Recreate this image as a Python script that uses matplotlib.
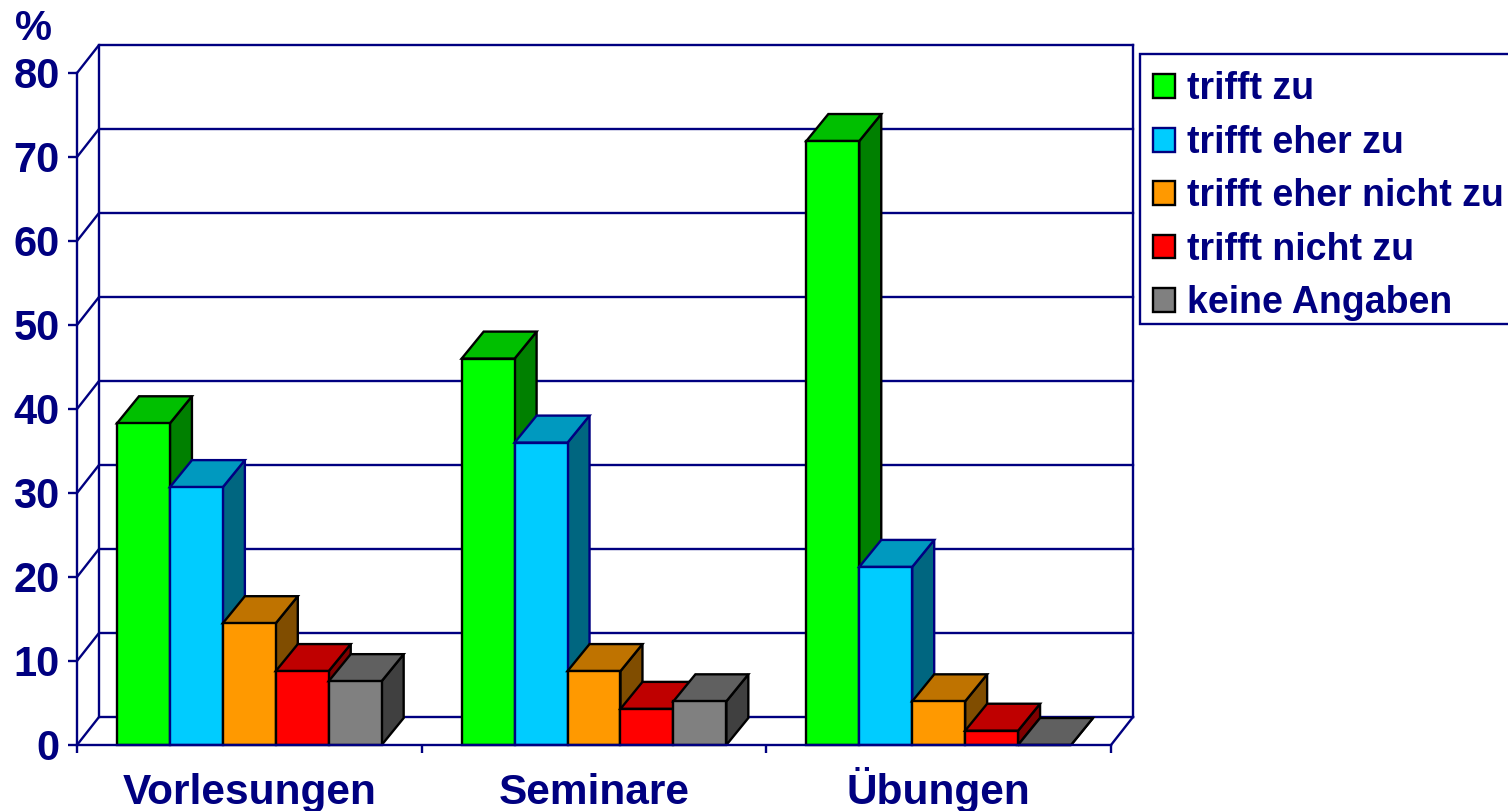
import matplotlib
matplotlib.use("Agg")
import matplotlib.pyplot as plt
from matplotlib.patches import Polygon, Rectangle
from matplotlib.colors import to_rgb

categories = ["Vorlesungen", "Seminare", "Übungen"]
trifft_zu = [38.3, 46.0, 71.9]
trifft_eher_zu = [30.7, 36.0, 21.2]
trifft_eher_nicht_zu = [14.5, 8.8, 5.2]
trifft_nicht_zu = [8.8, 4.3, 1.7]
keine_angaben = [7.6, 5.2, 0.0]
series_names = ["trifft zu", "trifft eher zu", "trifft eher nicht zu", "trifft nicht zu", "keine Angaben"]
series_values = [trifft_zu, trifft_eher_zu, trifft_eher_nicht_zu, trifft_nicht_zu, keine_angaben]
series_colors = ["#00FF00", "#00CCFF", "#FF9900", "#FF0000", "#808080"]
series_edges = ["#000000", "#000080", "#000000", "#000000", "#000000"]
y_ticks = [0, 10, 20, 30, 40, 50, 60, 70, 80]

NAVY = "#000080"
W, H = 1508, 811
LW = 1.7
plt.rcParams["font.family"] = ["Liberation Sans", "DejaVu Sans"]
plt.rcParams["font.weight"] = "bold"

fig = plt.figure(figsize=(W / 100, H / 100), dpi=100)
ax = fig.add_axes([77 / W, 1 - 745 / H, 1034 / W, 672 / H])
ax.set_xlim(0, 3)
ax.set_ylim(0, 80)

dx = 22 / (1034 / 3)      # depth offset, category units
dy = 27 / 8.4             # depth offset, value units
wall_dy = 28 / 8.4
gap = 40 / (1034 / 3)
bar_w = (1 - 2 * gap) / 5


def shade(color, f):
    return tuple(c * f for c in to_rgb(color))


# walls and floor
wall = dict(color=NAVY, lw=LW, clip_on=False, zorder=1, solid_capstyle="projecting")
for v in y_ticks:
    ax.plot([0, dx, 3 + dx], [v, v + wall_dy, v + wall_dy], **wall)
ax.plot([dx, dx], [wall_dy, 80 + wall_dy], **wall)
ax.plot([3 + dx, 3 + dx], [wall_dy, 80 + wall_dy], **wall)
ax.plot([3, 3 + dx], [0, wall_dy], **wall)

# bars
z = 2
for s, (name, vals, col, edge) in enumerate(zip(series_names, series_values, series_colors, series_edges)):
    xs = [i + gap + s * bar_w for i in range(len(categories))]
    ax.bar(xs, vals, width=bar_w, align="edge", color=col, edgecolor=edge,
           linewidth=LW, label=name, zorder=z + 2, clip_on=False)
    for x, v in zip(xs, vals):
        top = Polygon([(x, v), (x + bar_w, v), (x + bar_w + dx, v + dy), (x + dx, v + dy)],
                      closed=True, facecolor=shade(col, 0.75), edgecolor=edge, lw=LW,
                      zorder=z + 1, clip_on=False)
        side = Polygon([(x + bar_w, 0), (x + bar_w + dx, dy), (x + bar_w + dx, v + dy), (x + bar_w, v)],
                       closed=True, facecolor=shade(col, 0.5), edgecolor=edge, lw=LW,
                       zorder=z, clip_on=False)
        ax.add_patch(top)
        ax.add_patch(side)
    z += 3

# axes
for sp in ["top", "right"]:
    ax.spines[sp].set_visible(False)
for sp in ["left", "bottom"]:
    ax.spines[sp].set_color(NAVY)
    ax.spines[sp].set_linewidth(LW)
    ax.spines[sp].set_zorder(30)
ax.patch.set_visible(False)
ax.set_yticks(y_ticks)
ax.set_xticks([0, 1, 2, 3])
ax.set_xticks([0.5, 1.5, 2.5], minor=True)
ax.set_xticklabels([])
ax.set_xticklabels(categories, minor=True, va="baseline")
ax.tick_params(axis="y", length=6.5, width=LW, color=NAVY, labelcolor=NAVY, labelsize=30, pad=6)
ax.tick_params(axis="x", which="major", length=6, width=LW, color=NAVY)
ax.tick_params(axis="x", which="minor", length=0, labelcolor=NAVY, labelsize=30.5, pad=42.5)
ax.set_ylabel("%", rotation=0, color=NAVY, fontsize=30, fontweight="bold")
ax.yaxis.set_label_coords((33 - 77) / 1034, (745 - 9) / 672)
ax.yaxis.label.set_verticalalignment("top")

fig.add_artist(Rectangle((1140 / W, 1 - 324 / H), 400 / W, 270 / H, transform=fig.transFigure,
                         facecolor="white", edgecolor=NAVY, lw=LW, zorder=-1))
leg = ax.legend(loc="upper left", bbox_to_anchor=(1139 / W, 1 - 57.5 / H), bbox_transform=fig.transFigure,
                fontsize=27, frameon=False,
                handlelength=0.6, handleheight=0.6, handletextpad=0.3, labelspacing=0.465,
                borderpad=0.37, borderaxespad=0, labelcolor=NAVY)
leg.set_zorder(40)
for h in leg.legend_handles:
    h.set_linewidth(LW)

fig.savefig("out.png", dpi=100)
